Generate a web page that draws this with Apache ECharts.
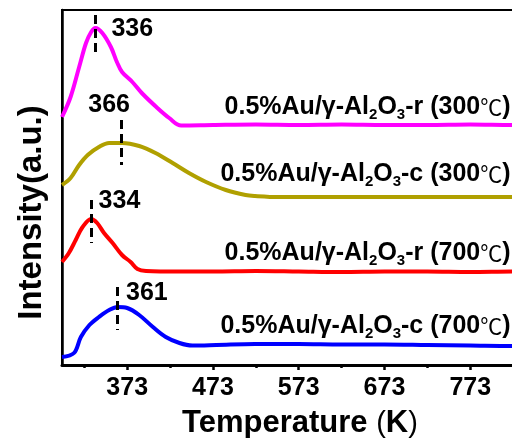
<!DOCTYPE html>
<html>
<head>
<meta charset="utf-8">
<script src="https://cdn.jsdelivr.net/npm/echarts@6/dist/echarts.min.js"></script>
<style>html,body{margin:0;padding:0;background:#fff}#c{width:512px;height:438px}</style>
</head>
<body>
<div id="c"></div>
<script>
// ---- data (temperature in K, intensity in a.u., curves already offset) ----
const majorTicks = [373, 473, 573, 673, 773, 873];
const minorTicks = [323, 423, 523, 623, 723, 823];

const rT300 = [297, 307, 317, 325, 331, 336, 344, 354, 361, 367, 379, 390, 407, 422, 436, 473, 523, 573, 623, 673, 723, 773, 823, 873];
const rI300 = [248, 268, 298, 322, 333, 337, 332, 318, 303, 293, 283, 272, 258, 247, 239.5, 240, 240.5, 240, 240.5, 240, 240, 240.5, 240, 240];

const cT300 = [297, 307, 317, 327, 340, 352, 367, 387, 406, 426, 445, 465, 488, 511, 522, 550, 573, 623, 673, 723, 773, 823, 873];
const cI300 = [180, 187, 200, 210, 218, 222, 222, 219, 212, 202, 192, 183, 175, 170, 169, 168, 168, 168, 168, 168, 168, 168, 168];

const rT700 = [297, 305, 313, 321, 331, 338, 346, 356, 367, 377, 385, 395, 434, 473, 523, 573, 623, 673, 723, 773, 823, 873];
const rI700 = [103, 112, 125, 138, 146, 142, 132, 122, 110, 103, 96, 94, 93.5, 93.5, 94, 93.5, 93, 93.5, 93.5, 93, 93.5, 93.5];

const cT700 = [297, 311, 319, 329, 340, 352, 362, 373, 387, 403, 418, 434, 449, 477, 522, 573, 623, 673, 723, 773, 823, 873];
const cI700 = [8, 12, 28, 40, 48, 55, 58, 57, 50, 38, 28, 22, 19.5, 20, 21, 21, 20.5, 20.5, 20, 19.5, 19, 19];

const peakLabels = ['336', '366', '334', '361'];
const sampleSuffix = ['r', 'c', 'r', 'c'];
const sampleTemp = ['300', '300', '700', '700'];

// ---- annotation anchors (data coordinates) ----
const peakMarks = [
  {x: 336, y1: 350, y2: 308, lx: 379, ly: 336},
  {x: 366, y1: 245, y2: 200, lx: 352, ly: 260},
  {x: 331, y1: 165, y2: 122, lx: 364, ly: 164},
  {x: 361, y1: 78,  y2: 35,  lx: 396, ly: 72}
];
const nameAnchors = [[820, 258], [820, 191], [820, 112], [820, 39]];
const colors = ['#FF00FF', '#B0A000', '#FF0000', '#0000FF'];

const FONT = 'Liberation Sans, Arial, sans-serif';
const curves = [[rT300, rI300], [cT300, cI300], [rT700, rI700], [cT700, cI700]];

const richName = {
  t: {fontSize: 25, fontWeight: 'bold', fontFamily: FONT, color: '#000', lineHeight: 30},
  s: {fontSize: 15, fontWeight: 'bold', fontFamily: FONT, color: '#000', lineHeight: 15, verticalAlign: 'bottom'},
  c: {fontSize: 22, fontWeight: 'normal', fontFamily: 'Noto Sans CJK SC, DejaVu Sans', color: '#000', lineHeight: 30}
};

const series = curves.map((c, i) => ({
  type: 'line',
  smooth: 0.35,
  showSymbol: false,
  data: c[0].map((t, k) => [t, c[1][k]]),
  lineStyle: {color: colors[i], width: 4},
  itemStyle: {color: colors[i]},
  z: 2,
  markLine: {
    silent: true,
    symbol: 'none',
    label: {show: false},
    lineStyle: {color: '#000', width: 3, type: [9, 5]},
    data: [[{coord: [peakMarks[i].x, peakMarks[i].y1]}, {coord: [peakMarks[i].x, peakMarks[i].y2]}]]
  },
  markPoint: {
    silent: true,
    symbol: 'circle',
    symbolSize: 0,
    data: [
      {coord: [peakMarks[i].lx, peakMarks[i].ly],
       label: {show: true, position: 'inside', formatter: peakLabels[i], fontSize: 25, fontWeight: 'bold', fontFamily: FONT, color: '#000'}},
      {coord: nameAnchors[i],
       label: {show: true, position: 'left', distance: 0,
         formatter: '{t|0.5%Au/γ-Al}{s|2}{t|O}{s|3}{t|-' + sampleSuffix[i] + ' (' + sampleTemp[i] + '}{c|℃}{t|)}',
         rich: richName}}
    ]
  }
}));

const chart = echarts.init(document.getElementById('c'), null, {renderer: 'canvas'});
chart.setOption({
  backgroundColor: '#fff',
  animation: false,
  grid: {left: 62, top: 10, right: -44, bottom: 73, show: true, borderColor: '#000', borderWidth: 2,
         containLabel: false, outerBoundsMode: 'none'},
  xAxis: [
    {
      type: 'value', min: 297, max: 873, position: 'bottom',
      name: '{b|Temperature }{p|(}{b|K}{p|)}',
      nameLocation: 'middle', nameGap: 43,
      nameTextStyle: {
        padding: [0, 18, 0, 0],
        rich: {
          b: {fontSize: 31, fontWeight: 'bold', fontFamily: FONT, color: '#000'},
          p: {fontSize: 29, fontWeight: 'normal', fontFamily: FONT, color: '#000'}
        }
      },
      axisLine: {show: true, lineStyle: {color: '#000', width: 3}},
      axisTick: {show: true, length: 5, inside: false, lineStyle: {color: '#000', width: 2.5}, customValues: majorTicks},
      axisLabel: {show: true, customValues: majorTicks, margin: 11, fontSize: 25, fontWeight: 'bold', fontFamily: FONT, color: '#000'},
      splitLine: {show: false}
    },
    {
      type: 'value', min: 297, max: 873, position: 'bottom',
      axisLine: {show: false},
      axisTick: {show: true, length: 3, lineStyle: {color: '#000', width: 2.5}, customValues: minorTicks},
      axisLabel: {show: false},
      splitLine: {show: false}
    }
  ],
  yAxis: {
    type: 'value', min: 0, max: 355,
    name: 'Intensity(a.u.)',
    nameLocation: 'middle', nameGap: 14,
    nameTextStyle: {fontSize: 33, fontWeight: 'bold', fontFamily: FONT, color: '#000', padding: [0, 50, 0, 0]},
    axisLine: {show: true, lineStyle: {color: '#000', width: 2.5}},
    axisTick: {show: false},
    axisLabel: {show: false},
    splitLine: {show: false}
  },
  series: series
});
</script>
</body>
</html>
